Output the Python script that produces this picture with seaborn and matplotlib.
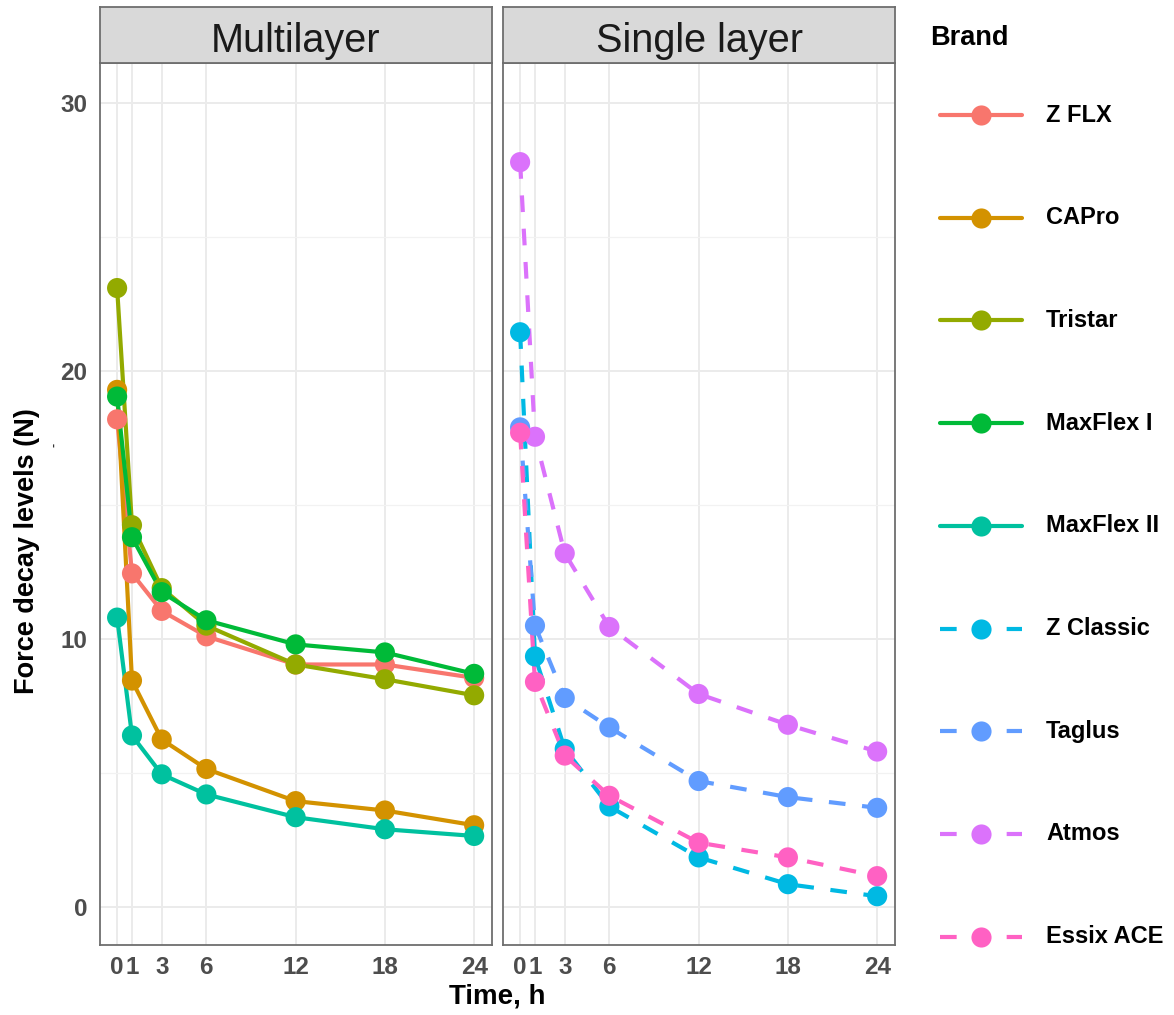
import numpy as np
import pandas as pd
import matplotlib
matplotlib.use("Agg")
import matplotlib.pyplot as plt
import seaborn as sns

# ---------------- data ----------------
time_h = [0, 1, 3, 6, 12, 18, 24]
brands = ["Z FLX", "CAPro", "Tristar", "MaxFlex I", "MaxFlex II",
          "Z Classic", "Taglus", "Atmos", "Essix ACE"]
layer_of_brand = ["Multilayer"] * 5 + ["Single layer"] * 4
facets = ["Multilayer", "Single layer"]

z_flx = [18.2, 12.45, 11.05, 10.1, 9.05, 9.05, 8.55]
capro = [19.3, 8.45, 6.25, 5.15, 3.95, 3.6, 3.05]
tristar = [23.1, 14.25, 11.9, 10.5, 9.05, 8.5, 7.9]
maxflex_1 = [19.05, 13.8, 11.75, 10.7, 9.8, 9.5, 8.7]
maxflex_2 = [10.8, 6.4, 4.95, 4.2, 3.35, 2.9, 2.65]
z_classic = [21.45, 9.35, 5.9, 3.75, 1.85, 0.85, 0.4]
taglus = [17.9, 10.5, 7.8, 6.7, 4.7, 4.1, 3.7]
atmos = [27.8, 17.55, 13.2, 10.45, 7.95, 6.8, 5.8]
essix_ace = [17.7, 8.4, 5.65, 4.15, 2.4, 1.85, 1.15]

series = [z_flx, capro, tristar, maxflex_1, maxflex_2,
          z_classic, taglus, atmos, essix_ace]
colors = ["#F8766D", "#D39200", "#93AA00", "#00BA38", "#00C19F",
          "#00B9E3", "#619CFF", "#DB72FB", "#FF61C3"]
y_ticks = [0, 10, 20, 30]

rows = []
for b, lay, vals in zip(brands, layer_of_brand, series):
    for t, v in zip(time_h, vals):
        rows.append({"Brand": b, "Layer": lay, "Time": t, "Force": v})
df = pd.DataFrame(rows)
palette = dict(zip(brands, colors))

# ---------------- style ----------------
sns.set_style("white")
plt.rcParams["font.family"] = ["Liberation Sans", "DejaVu Sans"]

W, H = 1174, 1015
fig = plt.figure(figsize=(W / 100, H / 100), dpi=100)

def fx(px):
    return px / W

def fy(py):
    return 1 - py / H

panel_top, panel_bot = 63, 945
panels_x = [(100, 492), (503, 895)]
LW = 3.0
MS = 14.5
DASH = (4, 4)
border_col = "#6e6e6e"

for i, (lay, (x0, x1)) in enumerate(zip(facets, panels_x)):
    ax = fig.add_axes([fx(x0), fy(panel_bot), fx(x1 - x0), (panel_bot - panel_top) / H])
    sub = df[df["Layer"] == lay]
    order = [b for b in brands if b in sub["Brand"].unique()]
    ax.set_xlim(-1.15, 25.2)
    ax.set_ylim(-1.42, 31.5)
    ax.set_xticks(time_h)
    ax.set_yticks(y_ticks)
    ax.set_yticks([5, 15, 25], minor=True)
    ax.grid(True, which="major", color="#EBEBEB", lw=1.4, zorder=0)
    ax.grid(True, which="minor", axis="y", color="#F2F2F2", lw=0.9, zorder=0)
    ax.set_axisbelow(True)
    sns.lineplot(data=sub, x="Time", y="Force", hue="Brand", palette=palette,
                 hue_order=order, lw=LW, legend=False, ax=ax, estimator=None,
                 linestyle="-" if i == 0 else "--")
    if i == 1:
        for ln in ax.get_lines():
            ln.set_dashes(DASH)
    sns.scatterplot(data=sub, x="Time", y="Force", hue="Brand", palette=palette,
                    hue_order=order, s=MS ** 2, linewidth=0, legend=False,
                    ax=ax, zorder=5)
    ax.set_xlabel("")
    ax.set_ylabel("")
    for sp in ax.spines.values():
        sp.set_visible(True)
        sp.set_color(border_col)
        sp.set_linewidth(1.3)
    ax.tick_params(axis="both", which="major", length=4, width=1.1,
                   color="#333333", labelsize=17.5, labelcolor="#4D4D4D")
    ax.tick_params(axis="x", which="major", pad=4)
    ax.tick_params(axis="y", which="major", pad=5)
    ax.tick_params(axis="y", which="minor", length=0)
    for lab in ax.get_xticklabels() + ax.get_yticklabels():
        lab.set_fontweight("bold")
    if i == 1:
        ax.tick_params(axis="y", which="both", left=False, labelleft=False)

    # strip
    sax = fig.add_axes([fx(x0), fy(panel_top), fx(x1 - x0), (panel_top - 7) / H])
    sax.set_facecolor("#D9D9D9")
    sax.set_xticks([])
    sax.set_yticks([])
    for sp in sax.spines.values():
        sp.set_color(border_col)
        sp.set_linewidth(1.3)
    sax.text(0.5, 0.40, lay, transform=sax.transAxes, ha="center", va="center",
             fontsize=28.5, color="#1A1A1A")

# axis titles
fig.text(fx(497.5), fy(996), "Time, h", ha="center", va="center",
         fontsize=20, fontweight="bold", color="black")
fig.text(fx(27), fy(551), "Force decay levels (N)", ha="center", va="center",
         rotation=90, fontsize=19.5, fontweight="bold", color="black")
fig.text(fx(54), fy(445), "-", ha="center", va="center", rotation=90,
         fontsize=9, fontweight="bold", color="#333333")

# legend
lax = fig.add_axes([0, 0, 1, 1], zorder=-1)
lax.set_xlim(0, W)
lax.set_ylim(H, 0)
lax.axis("off")
lax.text(930, 38, "Brand", ha="left", va="center", fontsize=19.5,
         fontweight="bold", color="black")
for k, (b, c, lay) in enumerate(zip(brands, colors, layer_of_brand)):
    yk = 115 + k * 102.7
    ln, = lax.plot([940, 1022], [yk, yk], color=c, lw=LW,
                   ls="-" if lay == "Multilayer" else "--")
    if lay != "Multilayer":
        ln.set_dashes(DASH)
    lax.plot([981], [yk], marker="o", ms=MS, color=c, mew=0)
    lax.text(1046, yk, b, ha="left", va="center", fontsize=17,
             fontweight="bold", color="black")

fig.savefig("out.png", dpi=100, facecolor="white")
